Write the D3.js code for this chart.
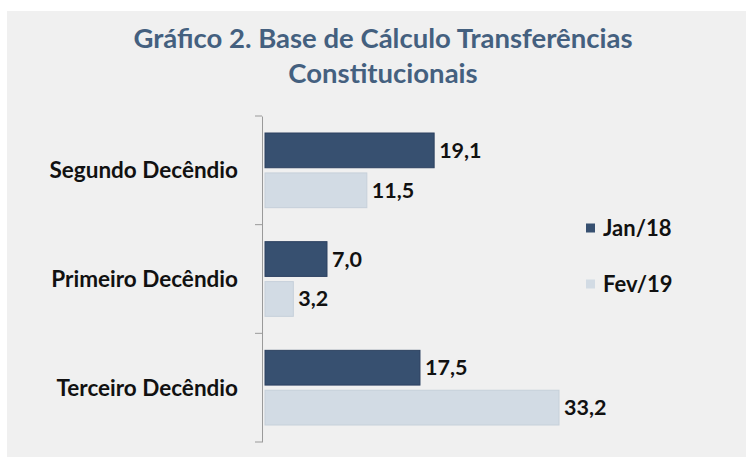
<!DOCTYPE html>
<html>
<head>
<meta charset="utf-8">
<script src="https://cdn.jsdelivr.net/npm/d3@7"></script>
<style>
  body { margin: 0; background: #ffffff; }
  text { font-family: Lato, "Open Sans", sans-serif; }
</style>
</head>
<body>
<div id="chart"></div>
<script>
const categories = ["Segundo Decêndio", "Primeiro Decêndio", "Terceiro Decêndio"];
const seriesNames = ["Jan/18", "Fev/19"];
const jan18 = [19.1, 7.0, 17.5];
const fev19 = [11.5, 3.2, 33.2];
const titleLines = ["Gráfico 2. Base de Cálculo Transferências", "Constitucionais"];

const W = 746, H = 458;
const dark = "#375070", light = "#d2dbe4";
const colors = [dark, light];

let svg = d3.select("#chart").append("svg")
  .attr("width", W)
  .attr("height", H);

// panel
svg.append("rect")
  .attr("x", 7).attr("y", 11)
  .attr("width", W - 7).attr("height", H - 12)
  .attr("fill", "#f0f0f0");

// title
svg.selectAll(".title")
  .data(titleLines)
  .enter()
  .append("text")
  .attr("class", "title")
  .attr("x", 383)
  .attr("y", (d, i) => 48 + i * 35)
  .attr("text-anchor", "middle")
  .attr("fill", "#44607f")
  .attr("font-size", 27.5)
  .attr("font-weight", 700)
  .text((d) => d);

const x = d3.scaleLinear().domain([0, 33.2]).range([265, 559]);
const y = d3.scaleBand().domain(categories).range([116, 442]);
const inner = d3.scaleBand().domain(seriesNames).range([17, y.bandwidth() - 17]).paddingInner(0.13);

// axis
let axis = svg.append("g")
  .attr("transform", "translate(262,0)")
  .call(d3.axisLeft(y).tickSize(0).tickFormat(""));
axis.select(".domain").attr("stroke", "#9a9a9a");
axis.selectAll(".boundary")
  .data([116, ...categories.map((c) => y(c) + y.bandwidth())])
  .enter()
  .append("line")
  .attr("x1", -7).attr("x2", 0)
  .attr("y1", (d) => d).attr("y2", (d) => d)
  .attr("stroke", "#9a9a9a");

// category labels
svg.selectAll(".cat")
  .data(categories)
  .enter()
  .append("text")
  .attr("x", 238)
  .attr("y", (d) => y(d) + y.bandwidth() / 2)
  .attr("dy", "0.35em")
  .attr("text-anchor", "end")
  .attr("font-size", 22.5)
  .attr("font-weight", 700)
  .attr("fill", "#111")
  .text((d) => d);

// bars
const rows = [];
categories.forEach((c, i) => {
  rows.push({ cat: c, s: seriesNames[0], v: jan18[i], k: 0 });
  rows.push({ cat: c, s: seriesNames[1], v: fev19[i], k: 1 });
});

svg.selectAll(".bar")
  .data(rows)
  .enter()
  .append("rect")
  .attr("class", "bar")
  .attr("x", x(0))
  .attr("y", (d) => y(d.cat) + inner(d.s))
  .attr("width", (d) => x(d.v) - x(0))
  .attr("height", inner.bandwidth())
  .attr("fill", (d) => colors[d.k])
  .attr("stroke", (d) => (d.k === 0 ? "#2c4160" : "#c6d0da"))
  .attr("stroke-width", 1);

svg.selectAll(".val")
  .data(rows)
  .enter()
  .append("text")
  .attr("x", (d) => x(d.v) + 5)
  .attr("y", (d) => y(d.cat) + inner(d.s) + inner.bandwidth() / 2)
  .attr("dy", "0.35em")
  .attr("font-size", 21.5)
  .attr("font-weight", 700)
  .attr("fill", "#111")
  .text((d) => d3.format(".1f")(d.v).replace(".", ","));

// legend
let legend = svg.selectAll(".leg")
  .data(seriesNames)
  .enter()
  .append("g")
  .attr("transform", (d, i) => `translate(586,${228 + i * 56})`);
legend.append("rect")
  .attr("x", 0).attr("y", -4.5)
  .attr("width", 9).attr("height", 9)
  .attr("fill", (d, i) => colors[i]);
legend.append("text")
  .attr("x", 17)
  .attr("dy", "0.35em")
  .attr("font-size", 22)
  .attr("font-weight", 700)
  .attr("fill", "#111")
  .text((d) => d);
</script>
</body>
</html>
